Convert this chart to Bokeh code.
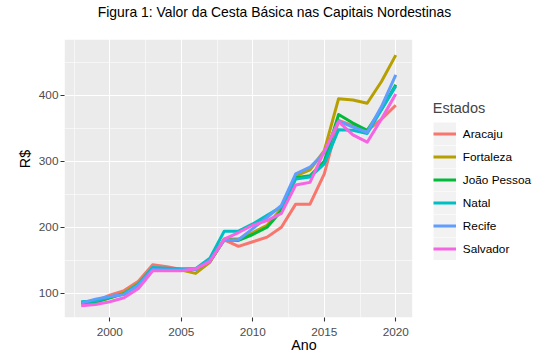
from bokeh.plotting import figure
from bokeh.models import Range1d, FixedTicker, Legend, LegendItem, BoxAnnotation, Label
from bokeh.embed import file_html
from bokeh.resources import INLINE

anos = list(range(1998, 2021))
estados = ["Aracaju", "Fortaleza", "João Pessoa", "Natal", "Recife", "Salvador"]
aracaju = [84, 88, 97, 104, 118, 143, 140, 136, 137, 148, 181, 171, 178, 185, 200, 235, 235, 281, 362, 354, 346, 364, 385]
fortaleza = [85, 86, 93, 101, 115, 138, 137, 135, 130, 147, 182, 182, 192, 203, 228, 278, 287, 316, 395, 393, 388, 421, 461]
joao_pessoa = [86, 87, 93, 99, 112, 136, 136, 135, 136, 148, 181, 180, 189, 200, 225, 275, 278, 300, 371, 358, 347, 379, 416]
natal = [87, 88, 94, 99, 114, 139, 138, 137, 137, 153, 194, 194, 205, 218, 231, 273, 276, 296, 348, 347, 342, 378, 414]
recife = [85, 91, 95, 98, 112, 136, 135, 135, 136, 150, 180, 181, 198, 215, 233, 281, 291, 313, 361, 352, 344, 383, 431]
salvador = [81, 83, 87, 93, 107, 134, 134, 134, 137, 148, 182, 192, 203, 210, 221, 264, 268, 315, 360, 340, 329, 364, 402]
series = [aracaju, fortaleza, joao_pessoa, natal, recife, salvador]
cores = ["#F8766D", "#B79F00", "#00BA38", "#00BFC4", "#619CFF", "#F564E3"]
x_ticks = [2000, 2005, 2010, 2015, 2020]
x_minor = [1997.5, 2002.5, 2007.5, 2012.5, 2017.5]
y_ticks = [100, 200, 300, 400]
y_minor = [150, 250, 350, 450]
titulo = "Figura 1: Valor da Cesta Básica nas Capitais Nordestinas"

FONT = "Liberation Sans"

# panel (grey area) limits in data units
PX0, PX1 = 1996.85, 2021.15
PY0, PY1 = 63.15, 484.2

# The frame covers the panel plus the legend / title area (white outside the panel)
p = figure(width=543, height=361, output_backend="svg", toolbar_location=None,
           x_range=Range1d(1996.832, 2030.33), y_range=Range1d(PY0, 543.8),
           min_border_left=64, min_border_right=0, min_border_top=0, min_border_bottom=44)

p.background_fill_color = "white"
p.border_fill_color = "white"
p.outline_line_color = None

panel = BoxAnnotation(right=PX1, top=PY1, fill_color="#EBEBEB", fill_alpha=1,
                      line_color=None, level="image")
p.add_layout(panel)

p.xaxis.ticker = FixedTicker(ticks=x_ticks, minor_ticks=x_minor)
p.yaxis.ticker = FixedTicker(ticks=y_ticks, minor_ticks=y_minor)
p.xaxis.bounds = (PX0, PX1)
p.yaxis.bounds = (PY0, PY1)

for g in (p.xgrid, p.ygrid):
    g.grid_line_color = "white"
    g.grid_line_width = 1.1
    g.minor_grid_line_color = "white"
    g.minor_grid_line_width = 0.55

for ax in (p.xaxis, p.yaxis):
    ax.axis_line_color = None
    ax.major_tick_line_color = "#333333"
    ax.major_tick_line_width = 1.07
    ax.major_tick_in = 0
    ax.major_tick_out = 4
    ax.minor_tick_line_color = None
    ax.major_label_text_font = FONT
    ax.major_label_text_font_size = "11.8px"
    ax.major_label_text_color = "#4D4D4D"
    ax.axis_label_text_font = FONT
    ax.axis_label_text_font_size = "14.3px"
    ax.axis_label_text_font_style = "normal"
    ax.axis_label_text_color = "black"

p.xaxis.axis_label = "Ano"
p.yaxis.axis_label = "R$"
p.xaxis.major_label_standoff = 6
p.xaxis.axis_label_standoff = -2
p.yaxis.major_label_standoff = 2
p.yaxis.axis_label_standoff = 3

nan = float("nan")
items = []
for nome, vals, cor in zip(estados, series, cores):
    bg = p.line(x=[nan], y=[nan], line_width=23, line_color="#F2F2F2", line_cap="butt")
    r = p.line(x=anos, y=vals, line_color=cor, line_width=3, line_join="round")
    items.append(LegendItem(label=nome, renderers=[bg, r]))

legend = Legend(items=items, location=(368.8, 57), title="Estados",
                title_text_font=FONT, title_text_font_size="14.5px", title_text_font_style="normal",
                title_standoff=6,
                label_text_font=FONT, label_text_font_size="11.8px", label_text_color="black",
                glyph_width=23, glyph_height=23, spacing=0, label_standoff=7, label_height=23,
                padding=5, margin=0,
                background_fill_alpha=0, border_line_color=None)
p.add_layout(legend)

p.add_layout(Label(x=33.3, y=305.7, x_units="screen", y_units="screen", text=titulo,
                   text_font=FONT, text_font_size="13.9px", text_color="black",
                   text_align="left", text_baseline="alphabetic"))

open("out.html", "w").write(file_html(p, INLINE))
